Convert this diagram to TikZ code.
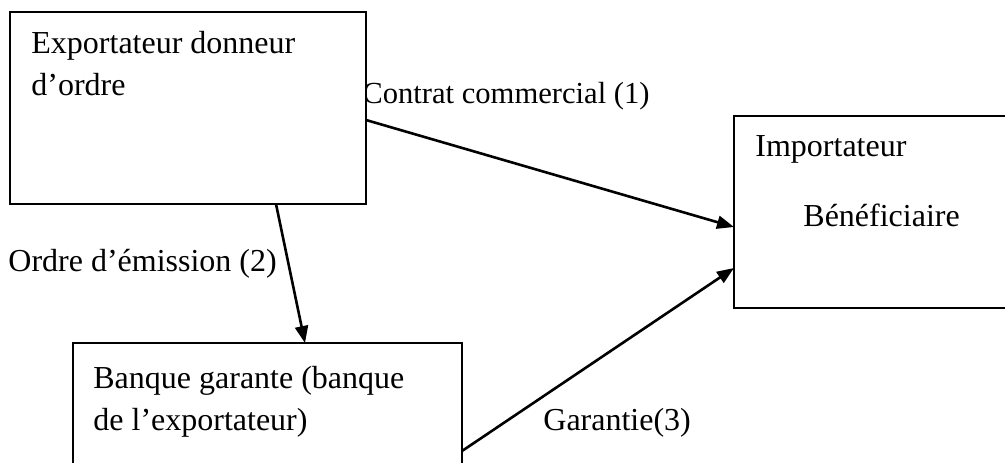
\documentclass[tikz,border=0pt]{standalone}
\usepackage{fontspec}
\setmainfont{Liberation Serif}
\usetikzlibrary{arrows.meta,positioning,calc}

\begin{document}
\begin{tikzpicture}[
  x=0.5pt, y=-0.5pt,
  box/.style={draw, fill=white, line width=0.8pt, inner sep=0pt, outer sep=0pt, anchor=north west},
  lbl/.style={anchor=base west, inner sep=0pt, font=\fontsize{16}{21}\selectfont},
  arrow/.style={-{Triangle[length=8.5pt,width=6.5pt]}, line width=1.3pt}
]
\useasboundingbox (0,0) rectangle (1005,462);
\clip (0,0) rectangle (1005,462);

% flow labels
\node[lbl, font=\fontsize{15.3}{20}\selectfont] (contrat) at (362,103) {Contrat commercial (1)};
\node[lbl] (ordre)   at (8,271)   {Ordre d’émission (2)};
\node[lbl] (garant)  at (543,430) {Garantie(3)};

% the three parties
\node[box, minimum width=178pt, minimum height=96pt]   (expo) at (10,12)  {};
\node[box, minimum width=145pt, minimum height=96pt]   (imp)  at (734,116) {};
\node[box, minimum width=194.5pt, minimum height=70pt] (banq) at (73,343)  {};

\node[lbl] (expo1) at ($(expo.north west)+(21,41)$)  {Exportateur donneur};
\node[lbl] (expo2) at ($(expo1.base west)+(0,42)$)   {d’ordre};
\node[lbl] (imp1)  at ($(imp.north west)+(21,40)$)   {Importateur};
\node[lbl] (imp2)  at ($(imp.north west)+(69,110)$)  {Bénéficiaire};
\node[lbl] (banq1) at ($(banq.north west)+(20,45)$)  {Banque garante (banque};
\node[lbl] (banq2) at ($(banq1.base west)+(0,42)$)   {de l’exportateur)};

% connectors
\draw[arrow] ($(expo.north east)+(0,108)$) -- ($(imp.north west)+(0,111)$);
\draw[arrow] ($(expo.south west)+(266,0)$) -- ($(banq.north west)+(232,0)$);
\draw[arrow] ($(banq.north east)+(0,108)$) -- ($(imp.north west)+(0,152)$);
\end{tikzpicture}
\end{document}
